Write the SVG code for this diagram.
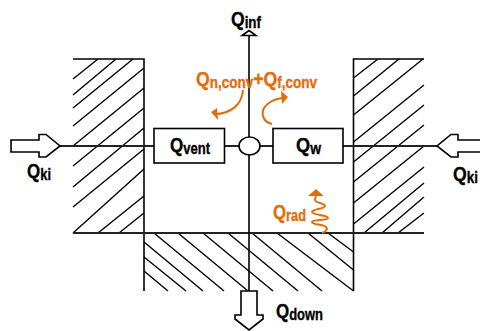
<svg xmlns="http://www.w3.org/2000/svg" width="480" height="331" viewBox="0 0 480 331">
<style>
.h{stroke:#000;stroke-width:1.4;fill:none}
.w{stroke:#000;stroke-width:1.6;fill:none}
.l{stroke:#222;stroke-width:1.8;fill:none}
.b{stroke:#000;stroke-width:1.6;fill:#fff}
.o{stroke:#E36C0A;stroke-width:2;fill:none}
.of{fill:#E36C0A}
text{font-family:"Liberation Sans",Arial,sans-serif;font-weight:700;font-size:21px;fill:#000;stroke:#000;stroke-width:.35}
text.t{fill:#E36C0A;stroke:#E36C0A}
.s{font-size:16px}
</style>
<rect width="480" height="331" fill="#fff"/>
<g id="left-wall">
<path class="h" d="M98 59L73 79M116 59L73 95M133 59L73 108M144 68L73 126M144 88L73 146M144 108L73 166M144 128L73 187M144 149L73 207M144 169L73 233M144 196L98 233M144 213L119 233"/>
<path class="w" d="M73 59H144V291"/>
</g>
<g id="right-wall">
<path class="h" d="M378 59L353.500 78M399 59L353.500 96M423 59L353.500 115M424 85L353.500 142M424 105L353.500 162M424 125L353.500 182M424 146L353.500 203M424 167L353.500 224M424 183L364 233M424 197L382 233M424 213L398 233"/>
<path class="w" d="M424 59H353.500V291"/>
</g>
<g id="floor">
<path class="h" d="M144 271L168 291M144 257L186 291M144 242L203 291M154 233L224 291M178 233L248 291M203 233L273 291M228 233L298 291M252 233L322 291M277 233L353.500 291M308 233L353.500 270M328 233L353.500 252"/>
</g>
<g id="connectors">
<path class="l" d="M60 146H154M224 146H239M260 146H273M343 146H437M73 233H424"/>
<path class="w" d="M249 33V137M249 155V292"/>
</g>
<g id="q-inf"><path class="b" d="M249 30.500L256 35.500H242Z"/><text x="231" y="26" textLength="30" lengthAdjust="spacingAndGlyphs">Q<tspan class="s" dy="2">inf</tspan></text></g>
<g id="q-ki-left"><path class="b" d="M11 140H39V134.500H46L60 146L46 157H39V152H11Z"/><text x="27" y="178" textLength="24" lengthAdjust="spacingAndGlyphs">Q<tspan class="s" dy="2">ki</tspan></text></g>
<g id="q-ki-right"><path class="b" d="M481 140H458V134.500H451L437 146L451 157H458V152H481Z"/><text x="453" y="181" textLength="25" lengthAdjust="spacingAndGlyphs">Q<tspan class="s" dy="2">ki</tspan></text></g>
<g id="q-vent"><rect class="b" x="154" y="128.500" width="70.500" height="34.500"/><text x="170" y="152" textLength="40" lengthAdjust="spacingAndGlyphs">Q<tspan class="s" dy="2">vent</tspan></text></g>
<g id="node-circle"><ellipse class="b" cx="249.500" cy="146" rx="10.500" ry="9"/></g>
<g id="q-w"><rect class="b" x="273" y="128.500" width="70" height="34.500"/><text x="296" y="152" textLength="25" lengthAdjust="spacingAndGlyphs">Q<tspan class="s" dy="2">w</tspan></text></g>
<g id="q-down"><path class="b" d="M241 291H257V315H263V319L249 330L235 319V315H241Z"/><text x="276" y="318" textLength="47" lengthAdjust="spacingAndGlyphs">Q<tspan class="s" dy="2">down</tspan></text></g>
<g id="q-conv">
<text class="t" x="196" y="86" textLength="121" lengthAdjust="spacingAndGlyphs">Q<tspan class="s" dy="2">n,conv</tspan><tspan dy="-2">+Q</tspan><tspan class="s" dy="2">f,conv</tspan></text>
<path class="o" d="M243 90C242 105 230 114 215 114"/>
<path class="of" d="M211 112L217 108L218 120Z"/>
<path class="o" d="M272 124C263 122 261 114 264 108C268 102 274 99 282 98"/>
<path class="of" d="M288 97L281 91L282 104Z"/>
</g>
<g id="q-rad">
<text class="t" x="273" y="219" textLength="33" lengthAdjust="spacingAndGlyphs">Q<tspan class="s" dy="2">rad</tspan></text>
<path class="o" d="M322 233C326 232 328 229 326 227C323 224 312 225 312 222C312 219 328 221 328 218C328 215 312 215 312 212C312 209 325 209 325 206C325 203 315 203 315 200C315 198 316 197 316 195" stroke-width="1.6"/>
<path class="of" d="M316 189L323.500 196H308Z"/>
</g>
</svg>
